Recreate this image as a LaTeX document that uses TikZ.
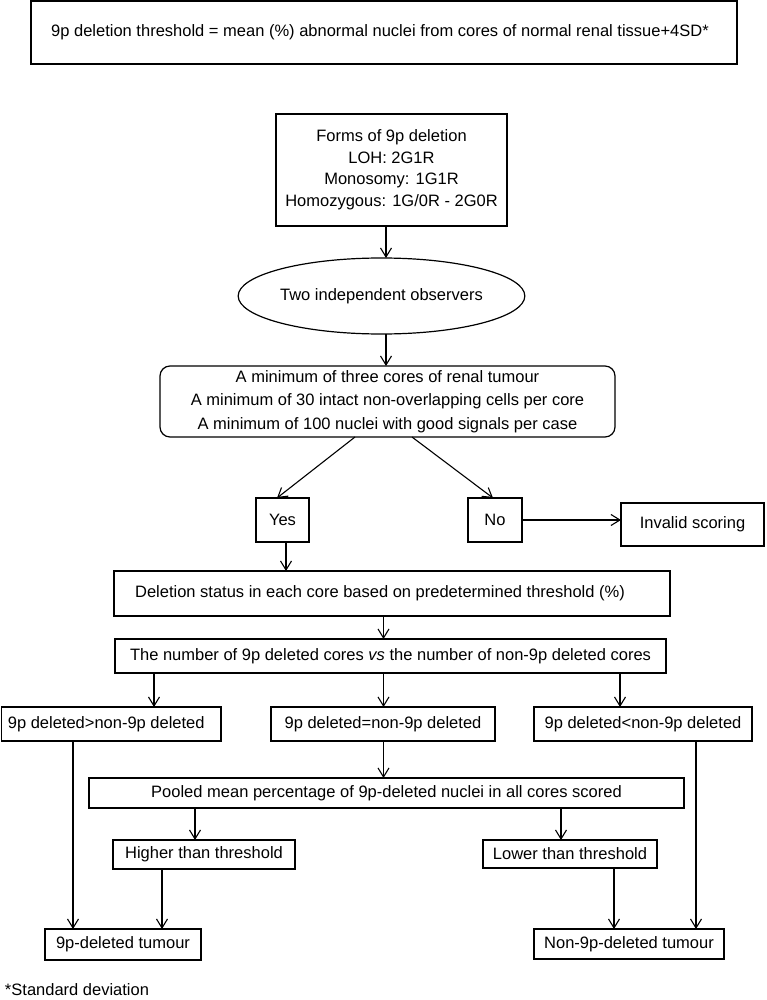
\documentclass[tikz,border=0pt]{standalone}
\usepackage{fontspec}
\setmainfont{Liberation Sans}
\usetikzlibrary{arrows.meta,shapes.geometric}
\begin{document}
\begin{tikzpicture}[x=1pt,y=-1pt,
  every node/.style={font=\fontsize{16.5}{20.5}\selectfont, inner sep=0pt, outer sep=0pt},
  box/.style={draw, line width=1.2pt, rectangle, align=center},
  rbox/.style={box, rounded corners=10pt},
  oval/.style={draw, line width=1.2pt, ellipse, align=center},
  arr/.style={line width=1.1pt, -{Straight Barb[length=9pt,width=11pt,line width=1.1pt]}},
  ln/.style={line width=1.1pt}]
\useasboundingbox (0,0) rectangle (766,1000);

\node[box, minimum width=706pt, minimum height=63pt] (top) at (384,32.5)
  {\raisebox{-2pt}{9p deletion threshold = mean (\%) abnormal nuclei from cores of normal renal tissue+4SD*}\hspace*{8pt}};

\node[box, minimum width=231pt, minimum height=112pt] (forms) at (391.5,170)
  {\raisebox{-9pt}{\begin{tabular}{@{}c@{}}Forms of 9p deletion\\[1pt] LOH: 2G1R\\[1pt] Monosomy: 1G1R\\[1pt] Homozygous: 1G/0R - 2G0R\end{tabular}}};

\node[oval, minimum width=213pt, minimum height=76pt] (obs) at (381.5,296) {Two independent observers};

\node[rbox, minimum width=455pt, minimum height=71pt] (crit) at (387.5,401.5)
  {\raisebox{-2pt}{\begin{tabular}{@{}c@{}}A minimum of three cores of renal tumour\\[3pt] A minimum of 30 intact non-overlapping cells per core\\[3pt] A minimum of 100 nuclei with good signals per case\end{tabular}}};

\node[box, minimum width=53pt, minimum height=44pt] (yes) at (282.5,520) {Yes};
\node[box, minimum width=54pt, minimum height=44pt] (no) at (495,520) {No};
\node[box, minimum width=143pt, minimum height=43pt] (inv) at (692.5,524.5) {Invalid scoring};

\node[box, minimum width=556pt, minimum height=45pt] (del) at (392,593.5)
  {Deletion status in each core based on predetermined threshold (\%)\hspace*{24pt}};
\node[box, minimum width=551pt, minimum height=34pt] (num) at (390.5,656)
  {The number of 9p deleted cores \textit{vs} the number of non-9p deleted cores};

\node[box, minimum width=219.5pt, minimum height=34pt] (gt) at (111.25,724) {9p deleted>non-9p deleted\hspace*{10pt}};
\node[box, minimum width=224pt, minimum height=34pt] (eq) at (383,724) {9p deleted=non-9p deleted};
\node[box, minimum width=218pt, minimum height=34pt] (lt) at (643,724) {9p deleted<non-9p deleted};

\node[box, minimum width=595pt, minimum height=30pt] (pool) at (386.5,793)
  {Pooled mean percentage of 9p-deleted nuclei in all cores scored};
\node[box, minimum width=182pt, minimum height=29pt] (hi) at (204,854.5) {Higher than threshold};
\node[box, minimum width=174pt, minimum height=28pt] (lo) at (570,854) {Lower than threshold};

\node[box, minimum width=156pt, minimum height=31pt] (dt) at (123,944.5) {9p-deleted tumour};
\node[box, minimum width=190pt, minimum height=30pt] (ndt) at (629,944) {Non-9p-deleted tumour};

\node[anchor=west] (sd) at (5,990) {*Standard deviation};

% connector x positions
\coordinate (xa) at (386,0);
\coordinate (xb) at (355,0);
\coordinate (xc) at (277,0);
\coordinate (xd) at (412,0);
\coordinate (xe) at (493,0);
\coordinate (xf) at (286,0);
\coordinate (xg) at (383.5,0);
\coordinate (xh) at (154,0);
\coordinate (xi) at (620,0);
\coordinate (xj) at (195,0);
\coordinate (xk) at (561,0);
\coordinate (xl) at (73,0);
\coordinate (xm) at (162,0);
\coordinate (xn) at (614,0);
\coordinate (xo) at (696,0);

\draw[arr] (forms.south -| xa) -- (obs.north -| xa);
\draw[arr] (obs.south -| xa) -- (crit.north -| xa);
\draw[arr] (crit.south -| xb) -- (yes.north -| xc);
\draw[arr] (crit.south -| xd) -- (no.north -| xe);
\draw[arr] (no.east) -- (no.east -| inv.west);
\draw[arr] (yes.south -| xf) -- (del.north -| xf);
\draw[arr] (del.south -| xg) -- (num.north -| xg);
\draw[arr] (num.south -| xh) -- (gt.north -| xh);
\draw[arr] (num.south -| xg) -- (eq.north -| xg);
\draw[arr] (num.south -| xi) -- (lt.north -| xi);
\draw[arr] (eq.south -| xg) -- (pool.north -| xg);
\draw[arr] (pool.south -| xj) -- (hi.north -| xj);
\draw[arr] (pool.south -| xk) -- (lo.north -| xk);
\draw[arr] (gt.south -| xl) -- (dt.north -| xl);
\draw[arr] (hi.south -| xm) -- (dt.north -| xm);
\draw[arr] (lo.south -| xn) -- (ndt.north -| xn);
\draw[arr] (lt.south -| xo) -- (ndt.north -| xo);
\end{tikzpicture}
\end{document}
